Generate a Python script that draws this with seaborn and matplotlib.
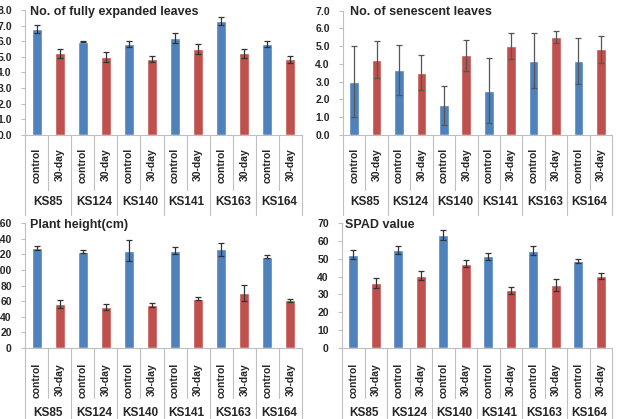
import matplotlib
matplotlib.use('Agg')
import matplotlib.pyplot as plt
import seaborn as sns
import pandas as pd
from matplotlib.transforms import blended_transform_factory

# lines and treatments
lines = ['KS85', 'KS124', 'KS140', 'KS141', 'KS163', 'KS164']
treatments = ['control', '30-day']

# No. of fully expanded leaves
leaves_ctrl = [6.76, 5.97, 5.82, 6.20, 7.31, 5.82]
leaves_ctrl_err = [0.25, 0.03, 0.20, 0.30, 0.25, 0.20]
leaves_trt = [5.22, 4.99, 4.84, 5.48, 5.22, 4.84]
leaves_trt_err = [0.28, 0.30, 0.20, 0.32, 0.30, 0.23]

# No. of senescent leaves
sen_ctrl = [3.00, 3.67, 1.67, 2.50, 4.17, 4.17]
sen_ctrl_err = [2.00, 1.42, 1.11, 1.85, 1.55, 1.27]
sen_trt = [4.25, 3.50, 4.50, 5.00, 5.50, 4.83]
sen_trt_err = [1.03, 0.98, 0.87, 0.72, 0.33, 0.76]

# Plant height (cm)
height_ctrl = [127.8, 123.5, 124.8, 124.8, 126.1, 116.7]
height_ctrl_err = [2.6, 1.5, 13.8, 4.7, 8.2, 2.1]
height_trt = [56.6, 52.3, 54.9, 63.0, 70.4, 60.9]
height_trt_err = [5.2, 3.5, 3.0, 1.8, 9.8, 1.7]

# SPAD value
spad_ctrl = [52.3, 54.7, 63.3, 51.4, 54.5, 48.6]
spad_ctrl_err = [2.4, 2.3, 2.9, 2.0, 2.5, 1.1]
spad_trt = [36.2, 40.6, 47.3, 32.3, 35.3, 40.3]
spad_trt_err = [2.8, 2.3, 1.9, 1.8, 3.3, 1.8]

FIG_W, FIG_H = 625, 419
BLUE = '#4F81BD'
RED = '#C0504D'
GRID = '#bfbfbf'

sns.set_style('white')
plt.rcParams['font.family'] = ['Liberation Sans', 'DejaVu Sans']


def make_axes(fig, left, right, top, bottom):
    # pixel box -> figure fraction
    return fig.add_axes([left / FIG_W, 1 - bottom / FIG_H,
                         (right - left) / FIG_W, (bottom - top) / FIG_H])


def draw_panel(ax, title, ctrl, ctrl_err, trt, trt_err, ymax, step, fmt,
               lab_px, grp_px, short_px, long_px, title_xy, ecolor='#333333'):
    rows = []
    for i, line in enumerate(lines):
        rows.append({'slot': f'{line}|control', 'treatment': 'control',
                     'value': ctrl[i], 'err': ctrl_err[i]})
        rows.append({'slot': f'{line}|30-day', 'treatment': '30-day',
                     'value': trt[i], 'err': trt_err[i]})
    df = pd.DataFrame(rows)

    sns.barplot(data=df, x='slot', y='value', hue='treatment',
                palette={'control': BLUE, '30-day': RED}, dodge=False,
                width=0.43, saturation=1, errorbar=None, legend=False, ax=ax)
    ax.errorbar(range(len(df)), df['value'], yerr=df['err'], fmt='none',
                ecolor=ecolor, elinewidth=0.9, capsize=2.2, capthick=0.9)

    ax.set_xlim(-0.5, len(df) - 0.5)
    ax.set_ylim(0, ymax)
    ticks = [k * step for k in range(int(round(ymax / step)) + 1)]
    ax.set_yticks(ticks)
    ax.set_yticklabels([fmt.format(t) for t in ticks], fontweight='bold')
    ax.set_xticks([])
    ax.set_xlabel('')
    ax.set_ylabel('')
    for s in ['top', 'right']:
        ax.spines[s].set_visible(False)
    for s in ['left', 'bottom']:
        ax.spines[s].set_color(GRID)
        ax.spines[s].set_linewidth(0.8)
    ax.tick_params(axis='y', direction='out', length=3, color=GRID,
                   width=0.8, labelsize=7.5, pad=6.5, left=True)

    h = ax.get_position().height * FIG_H
    trans = blended_transform_factory(ax.transData, ax.transAxes)
    # category separators, Excel multi-level style
    for k in range(len(df) + 1):
        xb = k - 0.5
        depth = long_px if k % 2 == 0 else short_px
        ax.plot([xb, xb], [0, -depth / h], transform=trans, color=GRID,
                lw=0.8, clip_on=False)
    for k, r in df.iterrows():
        ax.text(k, -lab_px / h, r['treatment'], transform=trans, rotation=90,
                ha='center', va='center', fontsize=7.5, fontweight='bold')
    for i, line in enumerate(lines):
        ax.text(2 * i + 0.5, -grp_px / h, line, transform=trans,
                ha='center', va='center', fontsize=8.5, fontweight='bold')

    ax.text(title_xy[0], title_xy[1], title, transform=ax.transAxes,
            ha='left', va='center', fontsize=9, fontweight='bold')


fig = plt.figure(figsize=(FIG_W / 100, FIG_H / 100), dpi=100)
fig.patch.set_facecolor('white')

ax1 = make_axes(fig, 25, 302, 10, 135)
draw_panel(ax1, 'No. of fully expanded leaves', leaves_ctrl, leaves_ctrl_err,
           leaves_trt, leaves_trt_err, 8, 1, '{:.1f}',
           30, 67, 55, 80, (0.018, 0.988))

ax2 = make_axes(fig, 343, 612, 10.7, 135)
draw_panel(ax2, 'No. of senescent leaves', sen_ctrl, sen_ctrl_err,
           sen_trt, sen_trt_err, 7, 1, '{:.1f}',
           30, 67, 55, 80, (0.026, 0.99), ecolor='#555555')

ax3 = make_axes(fig, 25, 302, 223, 348)
draw_panel(ax3, 'Plant height(cm)', height_ctrl, height_ctrl_err,
           height_trt, height_trt_err, 160, 20, '{:.0f}',
           32, 65, 50, 75, (0.018, 0.984))

ax4 = make_axes(fig, 342, 612, 223, 348)
draw_panel(ax4, 'SPAD value', spad_ctrl, spad_ctrl_err,
           spad_trt, spad_trt_err, 70, 10, '{:.0f}',
           32, 65, 50, 75, (0.011, 0.984))

fig.savefig('out.png', dpi=100, facecolor='white')
